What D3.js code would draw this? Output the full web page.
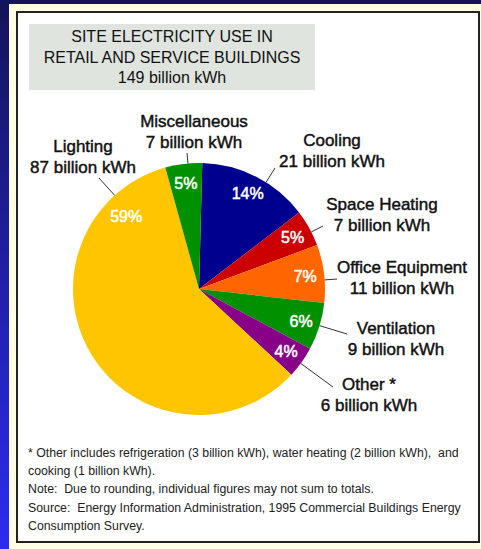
<!DOCTYPE html>
<html>
<head>
<meta charset="utf-8">
<script src="https://cdn.jsdelivr.net/npm/d3@7"></script>
<style>
  html, body { margin: 0; padding: 0; background: #fffee2; }
  svg { display: block; font-family: "Liberation Sans", Arial, sans-serif; }
  text { white-space: pre; }
</style>
</head>
<body>
<svg class="chart"></svg>
<script>
// data
var categories = ["Cooling", "Space Heating", "Office Equipment", "Ventilation", "Other *", "Lighting", "Miscellaneous"];
var values = [21, 7, 11, 9, 6, 87, 7];
var colors = ["#00008e", "#cc0000", "#ff6600", "#009000", "#880088", "#ffc600", "#009000"];
var titleLines = ["SITE ELECTRICITY USE IN", "RETAIL AND SERVICE BUILDINGS", "149 billion kWh"];
var notes = [
  "* Other includes refrigeration (3 billion kWh), water heating (2 billion kWh),  and",
  "cooking (1 billion kWh).",
  "Note:  Due to rounding, individual figures may not sum to totals.",
  "Source:  Energy Information Administration, 1995 Commercial Buildings Energy",
  "Consumption Survey."
];

var width = 481, height = 549;
var cx = 199, cy = 289, radius = 126;

// where each callout sits (label centre / first baseline, leader end)
var callout = {
  "Cooling":          {x: 332, y: 146, lx: 275, ly: 168},
  "Space Heating":    {x: 382, y: 210, lx: 323, ly: 226},
  "Office Equipment": {x: 402, y: 273, lx: 337, ly: 279},
  "Ventilation":      {x: 396, y: 334, lx: 347, ly: 334},
  "Other *":          {x: 369, y: 390, lx: 333, ly: 387},
  "Lighting":         {x: 83,  y: 152, lx: 99,  ly: 178},
  "Miscellaneous":    {x: 194, y: 127, lx: 187, ly: 153}
};

var svg = d3.select(".chart")
    .attr("width", width)
    .attr("height", height);

// frame: blue edges, cream border, white panel
var defs = svg.append("defs");
var grad = defs.append("linearGradient")
    .attr("id", "side")
    .attr("x1", 0).attr("y1", 0).attr("x2", 0).attr("y2", 1);
grad.append("stop").attr("offset", "0%").attr("stop-color", "#14145a");
grad.append("stop").attr("offset", "100%").attr("stop-color", "#2c2cf0");

svg.append("rect").attr("width", width).attr("height", height).attr("fill", "#fffee2");
svg.append("rect").attr("x", 0).attr("y", 0).attr("width", 9).attr("height", height).attr("fill", "url(#side)");
svg.append("rect").attr("x", 0).attr("y", 0).attr("width", width).attr("height", 4).attr("fill", "#14145a");
svg.append("rect")
    .attr("x", 17).attr("y", 12)
    .attr("width", 462).attr("height", 530)
    .attr("fill", "#fff")
    .attr("stroke", "#222")
    .attr("stroke-width", 2);

// title box
svg.append("rect")
    .attr("x", 29).attr("y", 24)
    .attr("width", 286).attr("height", 66)
    .attr("fill", "#dfe4df");

svg.append("g")
    .selectAll("text")
    .data(titleLines)
  .enter().append("text")
    .attr("x", 172)
    .attr("y", function(d, i) { return 42 + i * 20.5; })
    .attr("text-anchor", "middle")
    .style("font-size", "16px")
    .style("fill", "#111")
    .text(function(d) { return d; });

// pie
var total = d3.sum(values);
var rot = 1.5 * Math.PI / 180;
var pie = d3.pie().sort(null).startAngle(rot).endAngle(rot + 2 * Math.PI);
var arc = d3.arc().innerRadius(0).outerRadius(radius);
var arcs = pie(values);

var g = svg.append("g")
    .attr("transform", "translate(" + cx + "," + cy + ")");

g.selectAll("path")
    .data(arcs)
  .enter().append("path")
    .attr("d", arc)
    .attr("fill", function(d, i) { return colors[i]; });

// percent labels
var labelArc = d3.arc().innerRadius(107).outerRadius(107);
g.selectAll(".pct")
    .data(arcs)
  .enter().append("text")
    .attr("class", "pct")
    .attr("transform", function(d, i) {
      var p;
      if (categories[i] == "Lighting") {
        // the big slice has its label up near the top left
        var a = -Math.PI / 4;
        p = [103 * Math.sin(a), -103 * Math.cos(a)];
      } else {
        p = labelArc.centroid(d);
      }
      return "translate(" + p[0] + "," + p[1] + ")";
    })
    .attr("dy", "0.36em")
    .attr("text-anchor", "middle")
    .style("font-size", "16px")
    .style("fill", "#fff")
    .style("stroke", "#fff")
    .style("stroke-width", 0.5)
    .text(function(d, i) { return Math.round(values[i] / total * 100) + "%"; });

// leader lines, radial from the rim
svg.append("g")
    .selectAll("line")
    .data(categories)
  .enter().append("line")
    .attr("x1", function(d) {
      var c = callout[d], dx = c.lx - cx, dy = c.ly - cy;
      return cx + radius * dx / Math.sqrt(dx * dx + dy * dy);
    })
    .attr("y1", function(d) {
      var c = callout[d], dx = c.lx - cx, dy = c.ly - cy;
      return cy + radius * dy / Math.sqrt(dx * dx + dy * dy);
    })
    .attr("x2", function(d) { return callout[d].lx; })
    .attr("y2", function(d) { return callout[d].ly; })
    .attr("stroke", "#333")
    .attr("stroke-width", 1);

// category callouts
var labels = svg.append("g")
    .selectAll("text")
    .data(categories)
  .enter().append("text")
    .attr("text-anchor", "middle")
    .style("font-size", "17px")
    .style("fill", "#111")
    .style("stroke", "#111")
    .style("stroke-width", 0.45);

labels.append("tspan")
    .attr("x", function(d) { return callout[d].x; })
    .attr("y", function(d) { return callout[d].y; })
    .text(function(d) { return d; });

labels.append("tspan")
    .attr("x", function(d) { return callout[d].x; })
    .attr("y", function(d) { return callout[d].y + 20.5; })
    .text(function(d, i) { return values[i] + " billion kWh"; });

// footnotes
svg.append("g")
    .selectAll("text")
    .data(notes)
  .enter().append("text")
    .attr("x", 28)
    .attr("y", function(d, i) { return 456.5 + i * 18.4; })
    .style("font-size", "12.3px")
    .style("fill", "#222")
    .text(function(d) { return d; });
</script>
</body>
</html>
